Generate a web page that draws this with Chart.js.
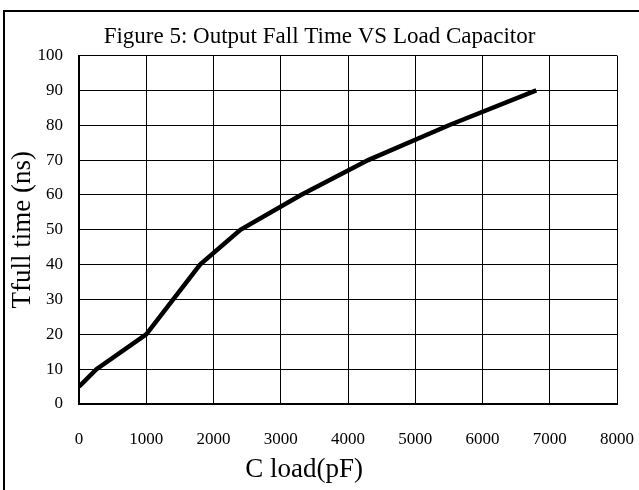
<!DOCTYPE html>
<html>
<head>
<meta charset="utf-8">
<script src="https://cdn.jsdelivr.net/npm/chart.js@4/dist/chart.umd.min.js"></script>
<style>
  html, body { margin: 0; padding: 0; background: #fff; }
  #wrap { position: relative; width: 639px; height: 490px; }
  #frame { position: absolute; left: 3px; top: 10px; width: 700px; height: 600px;
           border-left: 2px solid #000; border-top: 2px solid #000; box-sizing: border-box; }
  canvas { position: absolute; left: 0; top: 0; }
</style>
</head>
<body>
<div id="wrap">
  <div id="frame"></div>
  <canvas id="c" width="639" height="490"></canvas>
</div>
<script>
const titleText = "Figure 5: Output Fall Time VS Load Capacitor";
const xTitle = "C load(pF)";
const yTitle = "Tfull time (ns)";
const capLoad = [0, 260, 1000, 1800, 2400, 3300, 4300, 5500, 6800];
const fallTime = [5, 10, 20, 40, 50, 60, 70, 80, 90];
const xTicks = [0, 1000, 2000, 3000, 4000, 5000, 6000, 7000, 8000];
const yTicks = [0, 10, 20, 30, 40, 50, 60, 70, 80, 90, 100];

const FONT = "'Liberation Serif', 'DejaVu Serif', serif";
const points = capLoad.map((x, i) => ({ x: x, y: fallTime[i] }));
// trailing no-break spaces shift the centred axis title left, as in the reference
const xTitleShifted = xTitle + "\u00a0".repeat(13);

new Chart(document.getElementById('c'), {
  type: 'line',
  data: {
    datasets: [{
      data: points,
      borderColor: '#000',
      borderWidth: 4.5,
      pointRadius: 0,
      tension: 0,
      fill: false
    }]
  },
  options: {
    responsive: false,
    animation: false,
    layout: { padding: { left: 0, right: 0, top: 0, bottom: 0 } },
    plugins: {
      legend: { display: false },
      tooltip: { enabled: false },
      title: {
        display: true,
        text: titleText,
        color: '#000',
        font: { family: FONT, size: 23, weight: 'normal', lineHeight: 1.2 },
        padding: { top: 23, bottom: 5 }
      }
    },
    scales: {
      x: {
        type: 'linear',
        min: xTicks[0],
        max: xTicks[xTicks.length - 1],
        afterBuildTicks: (s) => { s.ticks = xTicks.map(v => ({ value: v })); },
        afterFit: (s) => { s.height = 86; s.paddingRight = 22; s.paddingLeft = 0; },
        grid: { color: '#000', lineWidth: 1, drawTicks: false },
        border: { display: true, color: '#000', width: 2 },
        ticks: { color: '#000', padding: 25, maxRotation: 0, autoSkip: false,
                 callback: (v) => String(v),
                 font: { family: FONT, size: 17 } },
        title: { display: true, text: xTitleShifted, color: '#000',
                 font: { family: FONT, size: 27 }, padding: { top: 0, bottom: 4 } }
      },
      y: {
        type: 'linear',
        min: yTicks[0],
        max: yTicks[yTicks.length - 1],
        afterBuildTicks: (s) => { s.ticks = yTicks.map(v => ({ value: v })); },
        afterFit: (s) => { s.width = 79; },
        grid: { color: '#000', lineWidth: 1, drawTicks: false },
        border: { display: true, color: '#000', width: 2 },
        ticks: { color: '#000', padding: 16, autoSkip: false,
                 callback: (v) => String(v),
                 font: { family: FONT, size: 17 } },
        title: { display: true, text: yTitle, color: '#000',
                 font: { family: FONT, size: 27 }, padding: { top: 7, bottom: 0 } }
      }
    }
  }
});
</script>
</body>
</html>
